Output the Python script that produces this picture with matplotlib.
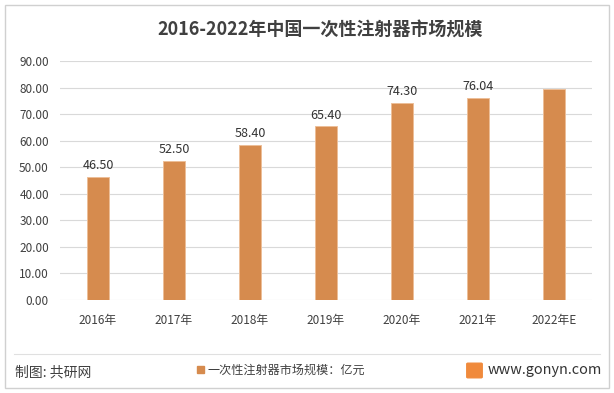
import matplotlib.pyplot as plt
import matplotlib.patches as mpatches
import numpy as np

plt.rcParams['font.family'] = ['Noto Sans CJK SC', 'DejaVu Sans']

# Data
years = ["2016年", "2017年", "2018年", "2019年", "2020年", "2021年", "2022年E"]
values = [46.50, 52.50, 58.40, 65.40, 74.30, 76.04, 79.60]
labels = ["46.50", "52.50", "58.40", "65.40", "74.30", "76.04", ""]
yticks = np.arange(0, 91, 10)

bar_color = "#D68B4E"
text_color = "#404040"

fig = plt.figure(figsize=(6.14, 3.93), dpi=100)
fig.patch.set_facecolor("white")

# outer frame
fig.add_artist(mpatches.Rectangle((5 / 614, 5 / 393), 604 / 614, 383 / 393,
                                  transform=fig.transFigure, fill=False,
                                  edgecolor="#D0D0D0", linewidth=1))

ax = fig.add_axes([60 / 614, 1 - 300 / 393, 532 / 614, 239 / 393])
x = np.arange(len(years))
ax.bar(x, values, width=0.30, color=bar_color, edgecolor="#EDBE98", linewidth=0.7, zorder=3)
for xi, v, lab in zip(x, values, labels):
    if lab:
        ax.text(xi, v + 1.8, lab, ha="center", va="bottom", fontsize=9, color="#333333")

ax.set_ylim(0, 90)
ax.set_xlim(-0.5, len(years) - 0.5)
ax.set_yticks(yticks)
ax.set_yticklabels([f"{t:.2f}" for t in yticks], fontsize=8.5, color=text_color)
ax.set_xticks(x)
ax.set_xticklabels(years, fontsize=8.5, color=text_color)
ax.tick_params(length=0, pad=8)
ax.tick_params(axis="x", pad=10)
ax.grid(axis="y", color="#D9D9D9", linewidth=0.8, zorder=0)
for s in ax.spines.values():
    s.set_visible(False)

fig.text(320 / 614, 1 - 30 / 393, "2016-2022年中国一次性注射器市场规模", ha="center", va="center",
         fontsize=13, fontweight="bold", color=text_color)

# footer
fig.add_artist(plt.Line2D([14 / 614, 600 / 614], [1 - 354 / 393, 1 - 354 / 393],
                          transform=fig.transFigure, color="#E0E0E0", linewidth=0.8))
fig.text(15 / 614, 1 - 372 / 393, "制图: 共研网", ha="left", va="center", fontsize=10, color=text_color)
fig.add_artist(mpatches.Rectangle((197 / 614, 1 - 373 / 393), 7 / 614, 7 / 393,
                                  transform=fig.transFigure, color=bar_color))
fig.text(208 / 614, 1 - 370 / 393, "一次性注射器市场规模：亿元", ha="left", va="center",
         fontsize=8.7, color=text_color)
fig.add_artist(mpatches.FancyBboxPatch((468 / 614, 1 - 377 / 393), 13 / 614, 13 / 393,
                                       boxstyle="round,pad=0.002",
                                       transform=fig.transFigure, color="#F08A3C"))
fig.text(488 / 614, 1 - 370 / 393, "www.gonyn.com", ha="left", va="center",
         fontsize=10.4, color="#333333")

fig.savefig("out.png", dpi=100)
